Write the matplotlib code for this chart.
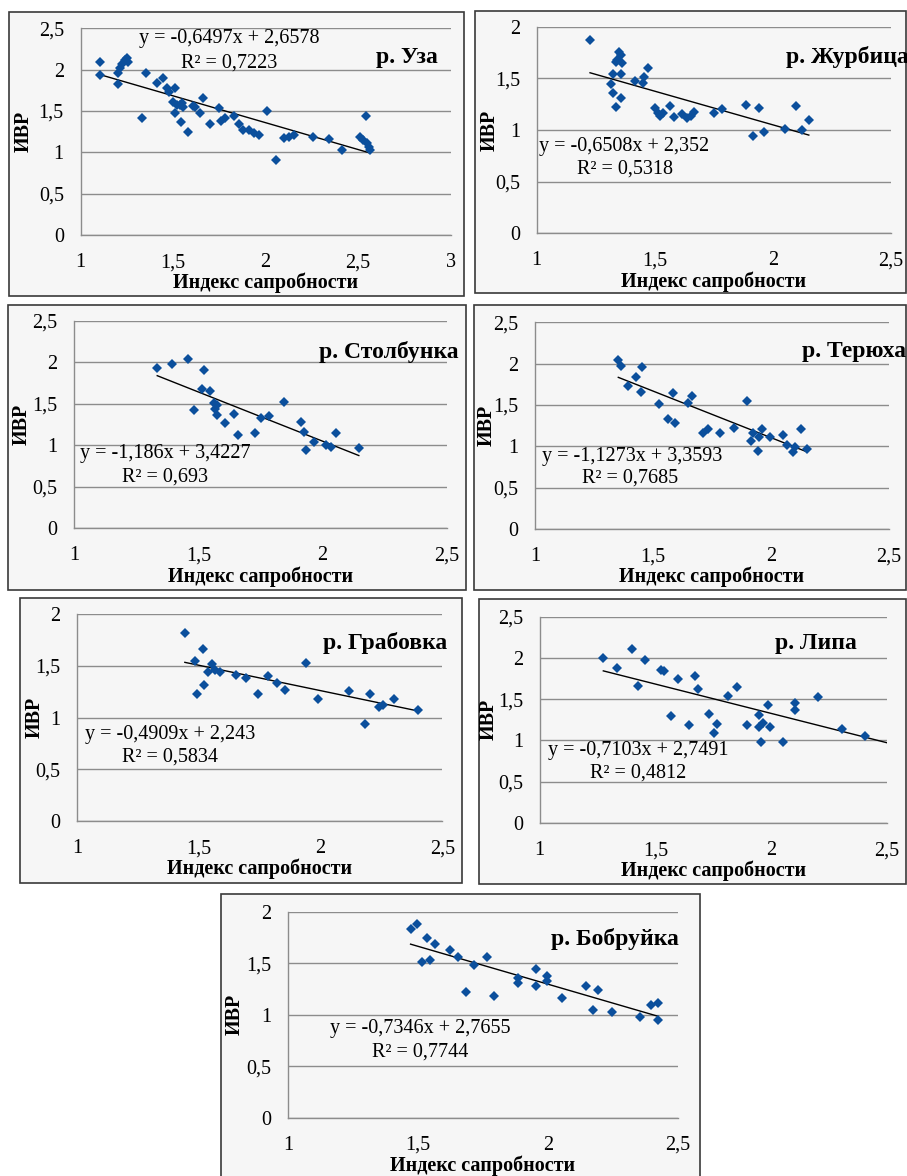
import matplotlib
matplotlib.use("Agg")
import matplotlib.pyplot as plt
from matplotlib.patches import Rectangle

plt.rcParams["font.family"] = ["Liberation Serif", "DejaVu Serif"]

W, H = 907, 1176

# ---- data ----
uza_x = [1.106, 1.106, 1.205, 1.202, 1.214, 1.224, 1.238, 1.251, 1.256, 1.331,
         1.353, 1.412, 1.448, 1.466, 1.479, 1.511, 1.502, 1.520, 1.538, 1.551,
         1.556, 1.511, 1.544, 1.583, 1.610, 1.619, 1.646, 1.664, 1.700, 1.749,
         1.760, 1.780, 1.829, 1.856, 1.879, 1.912, 1.939, 1.964, 2.005, 2.054,
         2.099, 2.128, 2.153, 2.254, 2.342, 2.414, 2.510, 2.528, 2.542, 2.546,
         2.560, 2.564]
uza_y = [2.096, 1.935, 1.822, 1.955, 2.016, 2.064, 2.116, 2.144, 2.096, 1.411,
         1.963, 1.834, 1.895, 1.774, 1.733, 1.774, 1.604, 1.572, 1.572, 1.592,
         1.551, 1.471, 1.370, 1.242, 1.560, 1.551, 1.471, 1.653, 1.338, 1.532,
         1.378, 1.416, 1.437, 1.348, 1.276, 1.276, 1.235, 1.215, 1.505, 0.905,
         1.179, 1.187, 1.207, 1.187, 1.159, 1.034, 1.187, 1.147, 1.437, 1.107,
         1.066, 1.034]
uza_fit = (-0.6497, 2.6578, "0,7223")

zhurbitsa_x = [1.226, 1.322, 1.314, 1.322, 1.335, 1.350, 1.356, 1.342, 1.335, 1.360,
               1.356, 1.356, 1.417, 1.449, 1.455, 1.473, 1.501, 1.516, 1.523, 1.534,
               1.565, 1.583, 1.614, 1.636, 1.653, 1.667, 1.753, 1.784, 1.886, 1.915,
               1.944, 1.965, 2.054, 2.099, 2.123, 2.153]
zhurbitsa_y = [1.871, 1.542, 1.445, 1.355, 1.226, 1.752, 1.726, 1.677, 1.658, 1.645,
               1.539, 1.313, 1.474, 1.458, 1.510, 1.597, 1.210, 1.168, 1.135, 1.161,
               1.235, 1.123, 1.152, 1.113, 1.139, 1.171, 1.168, 1.200, 1.239, 0.942,
               1.210, 0.981, 1.006, 1.232, 1.000, 1.097]
zhurbitsa_fit = (-0.6508, 2.352, "0,5318")

stolbunka_x = [1.334, 1.395, 1.456, 1.523, 1.515, 1.546, 1.483, 1.562, 1.573, 1.566,
               1.576, 1.605, 1.643, 1.658, 1.728, 1.754, 1.785, 1.846, 1.915, 1.926,
               1.933, 1.965, 2.012, 2.032, 2.054, 2.146]
stolbunka_y = [1.929, 1.977, 2.042, 1.909, 1.676, 1.656, 1.427, 1.507, 1.487, 1.439,
               1.363, 1.266, 1.375, 1.125, 1.145, 1.326, 1.354, 1.527, 1.278, 1.166,
               0.945, 1.037, 1.005, 0.985, 1.145, 0.973]
stolbunka_fit = (-1.186, 3.4227, "0,693")

teryukha_x = [1.353, 1.363, 1.395, 1.427, 1.448, 1.455, 1.525, 1.565, 1.583, 1.595,
              1.647, 1.664, 1.710, 1.731, 1.784, 1.845, 1.897, 1.914, 1.925, 1.944,
              1.951, 1.963, 1.996, 2.052, 2.066, 2.095, 2.103, 2.127, 2.151]
teryukha_y = [2.044, 1.972, 1.730, 1.843, 1.661, 1.956, 1.512, 1.327, 1.649, 1.278,
              1.528, 1.613, 1.165, 1.210, 1.165, 1.226, 1.552, 1.065, 1.165, 0.948,
              1.117, 1.210, 1.109, 1.137, 1.016, 0.935, 0.988, 1.210, 0.968]
teryukha_fit = (-1.1273, 3.3593, "0,7685")

grabovka_x = [1.442, 1.484, 1.490, 1.515, 1.522, 1.536, 1.555, 1.566, 1.586, 1.652,
              1.692, 1.744, 1.785, 1.822, 1.853, 1.940, 1.990, 2.115, 2.182, 2.203,
              2.241, 2.255, 2.301, 2.401]
grabovka_y = [1.816, 1.552, 1.229, 1.661, 1.316, 1.439, 1.516, 1.461, 1.445, 1.413,
              1.381, 1.229, 1.406, 1.339, 1.268, 1.532, 1.181, 1.261, 0.935, 1.229,
              1.100, 1.123, 1.181, 1.074]
grabovka_fit = (-0.4909, 2.243, "0,5834")

lipa_x = [1.275, 1.336, 1.398, 1.427, 1.454, 1.523, 1.538, 1.566, 1.598, 1.647,
          1.673, 1.686, 1.733, 1.755, 1.767, 1.816, 1.853, 1.895, 1.947, 1.947,
          1.956, 1.967, 1.987, 1.996, 2.053, 2.104, 2.104, 2.205, 2.305, 2.405]
lipa_y = [2.003, 1.874, 2.108, 1.660, 1.975, 1.854, 1.846, 1.300, 1.741, 1.187,
          1.785, 1.620, 1.317, 1.086, 1.200, 1.539, 1.652, 1.187, 1.313, 1.167,
          0.977, 1.208, 1.434, 1.159, 0.985, 1.458, 1.369, 1.531, 1.139, 1.054]
lipa_fit = (-0.7103, 2.7491, "0,4812")

bobruyka_x = [1.471, 1.496, 1.514, 1.536, 1.546, 1.567, 1.623, 1.652, 1.683, 1.714,
              1.764, 1.794, 1.884, 1.884, 1.954, 1.954, 1.995, 1.995, 2.053, 2.147,
              2.175, 2.194, 2.246, 2.355, 2.396, 2.423, 2.423]
bobruyka_y = [1.828, 1.877, 1.515, 1.748, 1.531, 1.689, 1.628, 1.563, 1.223, 1.482,
              1.563, 1.181, 1.359, 1.304, 1.440, 1.278, 1.375, 1.327, 1.159, 1.278,
              1.045, 1.239, 1.023, 0.981, 1.094, 1.117, 0.948]
bobruyka_fit = (-0.7346, 2.7655, "0,7744")

# name, x, y, fit, x max, y max, trend forecast end (None = last point)
rivers = [
    ("р. Уза", uza_x, uza_y, uza_fit, 3.0, 2.5, None),
    ("р. Журбица", zhurbitsa_x, zhurbitsa_y, zhurbitsa_fit, 2.5, 2.0, None),
    ("р. Столбунка", stolbunka_x, stolbunka_y, stolbunka_fit, 2.5, 2.5, None),
    ("р. Терюха", teryukha_x, teryukha_y, teryukha_fit, 2.5, 2.5, None),
    ("р. Грабовка", grabovka_x, grabovka_y, grabovka_fit, 2.5, 2.0, None),
    ("р. Липа", lipa_x, lipa_y, lipa_fit, 2.5, 2.5, 2.5),
    ("р. Бобруйка", bobruyka_x, bobruyka_y, bobruyka_fit, 2.5, 2.0, None),
]

# layout in pixels: frame box, plot box, equation centre, title left/centre, y-label x
layout = [
    dict(frame=(9, 12, 464, 296), plot=(80.5, 28.3, 450.7, 235), eq=(229, 39), r2=(229, 63),
         title=(376, 57), ylab=24),
    dict(frame=(475, 11, 906, 293), plot=(536.7, 26.7, 890.7, 233.3), eq=(624, 146), r2=(625, 169),
         title=(786, 57), ylab=490),
    dict(frame=(8, 305, 466, 590), plot=(74.3, 321, 446.7, 528.3), eq=(165, 454), r2=(165, 477),
         title=(319, 352), ylab=22),
    dict(frame=(474, 305, 906, 590), plot=(535, 322.3, 889, 529), eq=(632, 456), r2=(630, 478),
         title=(802, 352), ylab=487),
    dict(frame=(20, 598, 462, 883), plot=(77.3, 614.3, 442.3, 821), eq=(170, 735), r2=(170, 757),
         title=(323, 643), ylab=35),
    dict(frame=(479, 599, 906, 884), plot=(539.7, 616.7, 886.7, 823), eq=(638, 750), r2=(638, 773),
         title=(775, 643), ylab=489),
    dict(frame=(221, 894, 700, 1180), plot=(288.3, 911.7, 677.7, 1117.7), eq=(420, 1028), r2=(420, 1052),
         title=(551, 939), ylab=235),
]

MARKER = "#0b4f9c"
GRID = "#8c8c8c"
FS = 14.5


def comma(v):
    return str(v).replace(".", ",")


def fx(px):
    return px / W


def fy(py):
    return 1 - py / H


fig = plt.figure(figsize=(W / 100, H / 100), dpi=100)
fig.patch.set_facecolor("white")

for (name, xs, ys, fit, xmax, ymax, fc_end), lay in zip(rivers, layout):
    l, t, r, b = lay["frame"]
    fig.patches.append(Rectangle((fx(l), fy(b)), fx(r - l), (b - t) / H,
                                 transform=fig.transFigure, facecolor="#f6f6f6",
                                 edgecolor="#3a3a3a", linewidth=1.2, zorder=-1))

    pl, pt, pr, pb = lay["plot"]
    ax = fig.add_axes([fx(pl), fy(pb), fx(pr - pl), (pb - pt) / H])
    ax.set_facecolor("none")
    ax.set_xlim(1, xmax)
    ax.set_ylim(0, ymax)

    xt = [1 + 0.5 * i for i in range(int(round((xmax - 1) / 0.5)) + 1)]
    yt = [0.5 * i for i in range(int(round(ymax / 0.5)) + 1)]
    ax.set_xticks(xt)
    ax.set_xticklabels([str(int(v)) if v == int(v) else comma(v) for v in xt])
    ax.set_yticks(yt)
    ax.set_yticklabels([str(int(v)) if v == int(v) else comma(v) for v in yt])
    ax.tick_params(length=0, labelsize=FS, colors="black")
    ax.tick_params(axis="y", pad=12)
    ax.tick_params(axis="x", pad=13)

    for s in ("top", "right"):
        ax.spines[s].set_visible(False)
    for s in ("left", "bottom"):
        ax.spines[s].set_color(GRID)
        ax.spines[s].set_linewidth(1.0)
    ax.yaxis.grid(True, color=GRID, linewidth=1.0)
    ax.set_axisbelow(True)

    slope, icpt, r2 = fit
    x0 = min(xs)
    x1 = fc_end if fc_end is not None else max(xs)
    ax.plot([x0, x1], [slope * x0 + icpt, slope * x1 + icpt], color="black",
            linewidth=1.0, zorder=2)
    ax.plot(xs, ys, linestyle="none", marker="D", markersize=5.5,
            color=MARKER, markeredgewidth=0, zorder=3, clip_on=False)

    # equation & r2
    eq = "y = %sx + %s" % (comma(slope), comma(icpt))
    fig.text(fx(lay["eq"][0]), fy(lay["eq"][1]), eq, ha="center", va="center", fontsize=FS)
    fig.text(fx(lay["r2"][0]), fy(lay["r2"][1]), "R² = " + r2, ha="center", va="center", fontsize=FS)

    # river name
    fig.text(fx(lay["title"][0]), fy(lay["title"][1]), name, ha="left", va="center",
             fontsize=17, fontweight="bold")

    # axis labels
    fig.text(fx((pl + pr) / 2), fy(pb + 48), "Индекс сапробности", ha="center",
             va="center", fontsize=FS, fontweight="bold")
    fig.text(fx(lay["ylab"]), fy((pt + pb) / 2), "ИВР", ha="center", va="center",
             rotation=90, fontsize=FS, fontweight="bold")

fig.savefig("out.png", dpi=100)
